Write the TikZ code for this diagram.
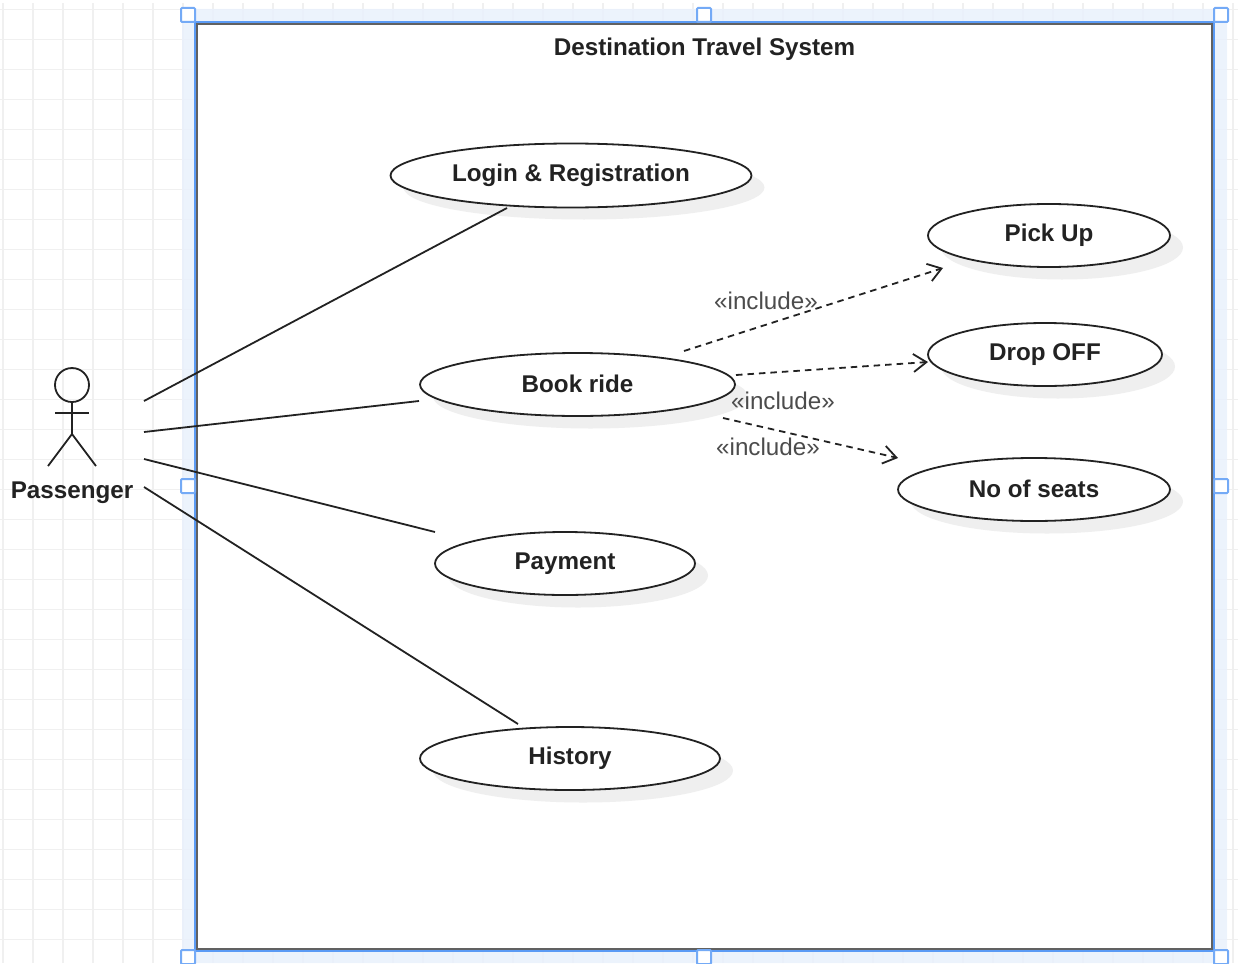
\documentclass[tikz,border=0pt]{standalone}
\usepackage{fontspec}
\setmainfont{Liberation Sans}
\usetikzlibrary{shapes.geometric,arrows.meta}
\definecolor{gridc}{HTML}{F0F0F0}
\definecolor{bandc}{HTML}{E9F1FC}
\definecolor{selc}{HTML}{5B9BF5}
\definecolor{shadc}{HTML}{EFEFEF}
\definecolor{inkc}{HTML}{222222}
\tikzset{
  uc/.style={ellipse,draw=inkc,line width=1.8pt,fill=white,inner sep=0pt,font=\fontsize{24.2}{28}\selectfont\bfseries,text=inkc},
  ucshadow/.style={ellipse,fill=shadc,inner sep=0pt},
  incl/.style={font=\fontsize{24.2}{28}\selectfont,text=black!70,inner sep=0pt},
  assoc/.style={draw=inkc,line width=1.8pt},
  dep/.style={draw=inkc,line width=1.8pt,dash pattern=on 6.5pt off 5pt,-{Straight Barb[length=13pt,width=18pt,line width=1.8pt]}},
  handle/.style={draw=selc!85!white,line width=2pt,fill=white,minimum size=14pt,inner sep=0pt,rectangle,rounded corners=1pt},
  actorline/.style={draw=inkc,line width=1.8pt},
  lbl/.style={font=\fontsize{24.2}{28}\selectfont\bfseries,text=inkc,inner sep=0pt}
}
\begin{document}
\begin{tikzpicture}[x=1pt,y=-1pt]
\useasboundingbox (0,0) rectangle (1238,963);
\clip (0,0) rectangle (1238,963);
% grid
\foreach \gx in {3,33,...,1233} \draw[gridc,line width=1.2pt] (\gx,3) -- (\gx,963);
\foreach \gy in {9.5,39.5,...,963} \draw[gridc,line width=1.2pt] (0,\gy) -- (1238,\gy);
% selection band
\fill[bandc,opacity=.85,even odd rule] (182,9) rectangle (1227,963) (196,23) rectangle (1213,950);
% frame
\node[rectangle,fill=white,minimum width=1017pt,minimum height=927pt,inner sep=0pt] (sys) at (704.5,486.5) {};
\draw[selc,line width=2pt] (195,22) rectangle (1214,951);
\draw[black!62,line width=2pt] (197,24) rectangle (1212,949);
\foreach \hn/\hx/\hy in {a/188/15,b/704/15,c/1221/15,d/188/486,e/1221/486,f/188/957,g/704/957,h/1221/957}
  \node[handle] (h\hn) at (\hx,\hy) {};
\node[lbl] (title) at (704.5,49) {Destination Travel System};
% shadows
\node[ucshadow,minimum width=361pt,minimum height=64pt] (s1) at (584,187.5) {};
\node[ucshadow,minimum width=242pt,minimum height=64pt] (s2) at (1062,247.5) {};
\node[ucshadow,minimum width=234pt,minimum height=64pt] (s3) at (1058,366.5) {};
\node[ucshadow,minimum width=272pt,minimum height=64pt] (s4) at (1047,501.5) {};
\node[ucshadow,minimum width=315pt,minimum height=64pt] (s5) at (590.5,396.5) {};
\node[ucshadow,minimum width=260pt,minimum height=64pt] (s6) at (578,575.5) {};
\node[ucshadow,minimum width=300pt,minimum height=64pt] (s7) at (583,770.5) {};
% use cases
\node[uc,minimum width=361pt,minimum height=64pt] (login) at (571,175.5) {Login \& Registration};
\node[uc,minimum width=242pt,minimum height=63pt] (pick) at (1049,235.5) {Pick Up};
\node[uc,minimum width=234pt,minimum height=63pt] (drop) at (1045,354.5) {\raisebox{1pt}{Drop OFF}};
\node[uc,minimum width=272pt,minimum height=63pt] (seats) at (1034,489.5) {\raisebox{2pt}{No of seats}};
\node[uc,minimum width=315pt,minimum height=63pt] (book) at (577.5,384.5) {\raisebox{1pt}{Book ride}};
\node[uc,minimum width=260pt,minimum height=63pt] (pay) at (565,563.5) {Payment};
\node[uc,minimum width=300pt,minimum height=63pt] (hist) at (570,758.5) {History};
% actor
\node[circle,draw=inkc,line width=1.8pt,minimum size=34pt,inner sep=0pt] (head) at (72,385) {};
\coordinate (hip) at (72,434);
\draw[actorline] (head.south) -- (hip);
\coordinate (armL) at (55,413); \coordinate (armR) at (89,413);
\coordinate (legL) at (48,466); \coordinate (legR) at (96,466);
\draw[actorline] (armL) -- (armR);
\draw[actorline] (legL) -- (hip) -- (legR);
\node[lbl] (passenger) at (72,493) {Passenger};
% associations
\coordinate (a1) at (144,401); \coordinate (a2) at (144,432);
\coordinate (a3) at (144,459); \coordinate (a4) at (144,487);
\coordinate (e1) at (507,208); \coordinate (e2) at (419,401);
\coordinate (e3) at (435,532); \coordinate (e4) at (518,724);
\draw[assoc] (a1) -- (e1);
\draw[assoc] (a2) -- (e2);
\draw[assoc] (a3) -- (e3);
\draw[assoc] (a4) -- (e4);
% includes
\coordinate (d1) at (684,351); \coordinate (t1) at (943,268);
\coordinate (d2) at (736,375); \coordinate (t2) at (928,362);
\coordinate (d3) at (723,418); \coordinate (t3) at (898,458);
\draw[dep] (d1) -- (t1);
\draw[dep] (d2) -- (t2);
\draw[dep] (d3) -- (t3);
\node[incl] (i1) at (766,301) {«include»};
\node[incl] (i2) at (783,401) {«include»};
\node[incl] (i3) at (768,447) {«include»};
\end{tikzpicture}
\end{document}
